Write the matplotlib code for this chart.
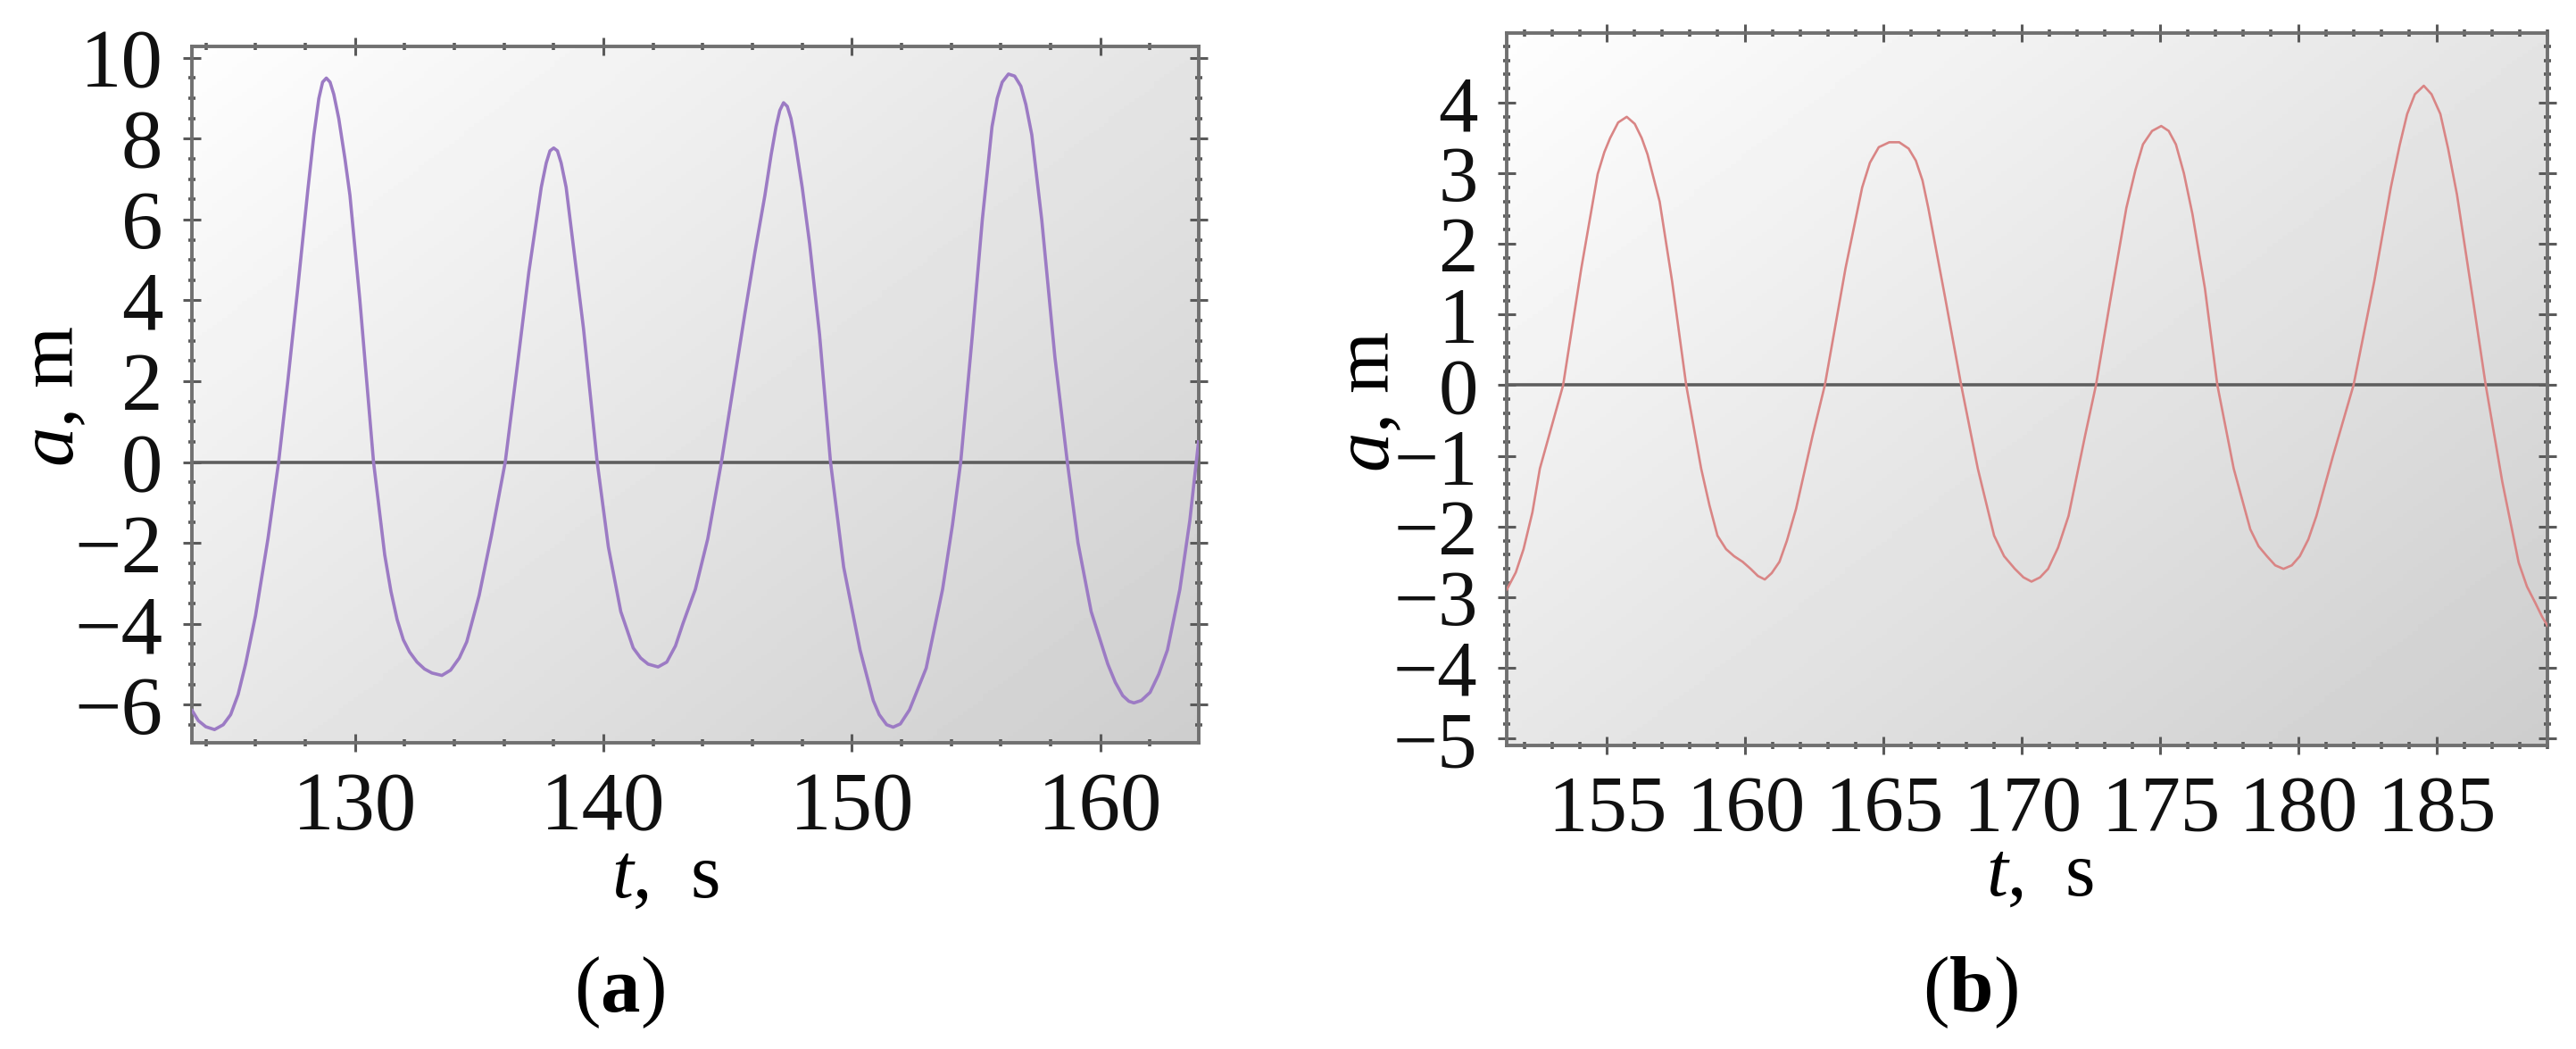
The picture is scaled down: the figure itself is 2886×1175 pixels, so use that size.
import numpy as np
import matplotlib
matplotlib.use("Agg")
import matplotlib.pyplot as plt
from matplotlib.ticker import MultipleLocator

plt.rcParams['font.family'] = ['Liberation Serif', 'DejaVu Serif']
plt.rcParams['mathtext.fontset'] = 'custom'
plt.rcParams['mathtext.rm'] = 'Liberation Serif'
plt.rcParams['mathtext.it'] = 'Liberation Serif:italic'
plt.rcParams['mathtext.bf'] = 'Liberation Serif:bold'

# panel (a): time, s and amplitude, m
t_a = [123.45, 123.7, 124.0, 124.35, 124.7, 125.0, 125.3, 125.6, 126.0, 126.5,
       126.93, 127.3, 127.7, 128.1, 128.35, 128.55, 128.7, 128.85, 129.0, 129.15,
       129.35, 129.6, 129.8, 130.2, 130.75, 131.2, 131.45, 131.7, 131.95, 132.2,
       132.5, 132.8, 133.1, 133.5, 133.85, 134.2, 134.5, 135.0, 135.5, 136.05,
       136.5, 137.0, 137.5, 137.7, 137.85, 138.0, 138.15, 138.3, 138.5, 138.7,
       139.2, 139.75, 140.2, 140.7, 141.2, 141.5, 141.8, 142.2, 142.55, 142.9,
       143.2, 143.7, 144.2, 144.75, 145.2, 145.7, 146.1, 146.5, 146.75, 146.95,
       147.1, 147.25, 147.4, 147.55, 147.7, 148.0, 148.3, 148.7, 149.14, 149.67,
       150.33, 150.86, 151.1, 151.4, 151.66, 151.95, 152.32, 152.99, 153.65, 154.05,
       154.38, 154.85, 155.25, 155.64, 155.85, 156.05, 156.3, 156.55, 156.8, 157.0,
       157.24, 157.64, 158.17, 158.67, 159.1, 159.63, 160.3, 160.6, 160.9, 161.15,
       161.35, 161.65, 162.0, 162.35, 162.7, 163.2, 163.6, 163.95]
a_a = [-6.15, -6.4, -6.55, -6.62, -6.5, -6.25, -5.75, -5.0, -3.8, -1.9,
       0.0, 2.0, 4.3, 6.7, 8.1, 9.0, 9.4, 9.5, 9.4, 9.1,
       8.5, 7.5, 6.6, 4.0, 0.0, -2.3, -3.2, -3.9, -4.4, -4.7,
       -4.95, -5.12, -5.22, -5.28, -5.15, -4.85, -4.45, -3.3, -1.8, 0.0,
       2.2, 4.7, 6.8, 7.4, 7.7, 7.77, 7.7, 7.4, 6.8, 5.8,
       3.3, 0.0, -2.1, -3.7, -4.6, -4.85, -5.0, -5.07, -4.95, -4.55,
       -4.0, -3.15, -1.9, 0.0, 1.75, 3.7, 5.2, 6.6, 7.6, 8.3,
       8.7, 8.89, 8.8, 8.5, 8.0, 6.8, 5.4, 3.15, 0.0, -2.6,
       -4.65, -5.9, -6.25, -6.5, -6.56, -6.48, -6.13, -5.1, -3.15, -1.55,
       0.0, 3.15, 6.0, 8.3, 9.0, 9.4, 9.6, 9.55, 9.3, 8.85,
       8.1, 6.0, 2.6, 0.0, -2.0, -3.7, -5.0, -5.45, -5.78, -5.92,
       -5.96, -5.9, -5.7, -5.25, -4.65, -3.15, -1.45, 0.5]

# panel (b)
t_b = [151.38, 151.7, 151.98, 152.3, 152.57, 153.41, 154.07, 154.66, 154.9, 155.11,
       155.4, 155.71, 156.0, 156.25, 156.46, 156.9, 157.35, 157.86, 158.4, 158.7,
       158.99, 159.3, 159.59, 159.9, 160.19, 160.45, 160.7, 160.95, 161.23, 161.5,
       161.83, 162.43, 162.87, 163.62, 164.22, 164.5, 164.82, 165.2, 165.56, 165.9,
       166.16, 166.4, 166.61, 167.2, 167.8, 168.4, 168.99, 169.35, 169.74, 170.05,
       170.34, 170.65, 170.94, 171.3, 171.68, 172.28, 172.67, 173.18, 173.77, 174.1,
       174.37, 174.7, 175.03, 175.3, 175.56, 175.85, 176.16, 176.61, 177.06, 177.65,
       178.25, 178.55, 178.85, 179.15, 179.45, 179.75, 180.04, 180.35, 180.64, 181.24,
       181.98, 182.73, 183.33, 183.65, 183.92, 184.2, 184.52, 184.8, 185.12, 185.4,
       185.72, 186.31, 186.76, 187.36, 187.95, 188.25, 188.55, 188.8, 189.0]
a_b = [-2.89, -2.65, -2.32, -1.8, -1.18, 0.0, 1.66, 2.99, 3.3, 3.5,
       3.72, 3.8, 3.7, 3.5, 3.27, 2.6, 1.47, 0.0, -1.18, -1.7,
       -2.13, -2.32, -2.42, -2.5, -2.6, -2.7, -2.75, -2.66, -2.5, -2.2,
       -1.75, -0.71, 0.0, 1.66, 2.8, 3.15, 3.37, 3.44, 3.44, 3.35,
       3.18, 2.9, 2.51, 1.28, 0.0, -1.18, -2.13, -2.42, -2.6, -2.72,
       -2.78, -2.72, -2.6, -2.3, -1.85, -0.71, 0.0, 1.18, 2.51, 3.05,
       3.41, 3.6, 3.67, 3.6, 3.41, 3.0, 2.42, 1.37, 0.0, -1.18,
       -2.04, -2.28, -2.42, -2.55, -2.6, -2.55, -2.42, -2.18, -1.85, -1.0,
       0.0, 1.47, 2.8, 3.4, 3.84, 4.12, 4.24, 4.12, 3.84, 3.35,
       2.7, 1.18, 0.0, -1.37, -2.51, -2.85, -3.08, -3.28, -3.41]

W, H = 2886, 1175
fig = plt.figure(figsize=(W / 100, H / 100), dpi=100)


def px(x0, y_bottom, x1, y_top):
    return [x0 / W, 1 - y_bottom / H, (x1 - x0) / W, (y_bottom - y_top) / H]


def setup(ax, xlim, ylim, xmaj, xmin, ymaj, ymin, fs):
    # light-to-grey shading like the original frame
    gx, gy = np.meshgrid(np.linspace(0, 1, 200), np.linspace(0, 1, 200))
    shade = 0.995 - 0.10 * gx - 0.09 * gy
    ax.imshow(shade, cmap='gray', vmin=0, vmax=1, extent=[0, 1, 0, 1],
              transform=ax.transAxes, origin='upper', aspect='auto', zorder=0)
    ax.set_xlim(*xlim)
    ax.set_ylim(*ylim)
    ax.axhline(0, color='#5e5e5e', lw=2.6, zorder=2)
    ax.xaxis.set_major_locator(MultipleLocator(xmaj))
    ax.xaxis.set_minor_locator(MultipleLocator(xmin))
    ax.yaxis.set_major_locator(MultipleLocator(ymaj))
    ax.yaxis.set_minor_locator(MultipleLocator(ymin))
    ax.tick_params(which='both', direction='inout', top=True, right=True,
                   colors='#5a5a5a', labelcolor='#111111')
    ax.tick_params(which='major', length=15, width=2.2, labelsize=fs, pad=16)
    ax.tick_params(which='minor', length=6, width=2.6)
    for s in ax.spines.values():
        s.set_color('#707070')
        s.set_linewidth(2.8)


ax1 = fig.add_axes(px(215, 831.7, 1343.3, 51.7))
setup(ax1, (123.44, 163.97), (-6.94, 10.29), 10, 2, 2, 0.5, 67)
ax1.plot(t_a, a_a, color='#9c7bc4', lw=2.6, zorder=3)

ax2 = fig.add_axes(px(1688.3, 835, 2854.3, 36.7))
setup(ax2, (151.38, 189.0), (-5.1, 4.99), 5, 1, 1, 0.2, 64)
ax2.plot(t_b, a_b, color='#d98585', lw=1.9, zorder=3)

# axis labels and panel letters
fig.text(82 / W, 1 - 444 / H, r'$a$, m', fontsize=64, rotation=90,
         rotation_mode='anchor', ha='center', va='baseline')
fig.text(745 / W, 1 - 1005 / H, r'$t$,  s', fontsize=62, ha='center', va='baseline')
fig.text(694 / W, 1 - 1133 / H, r'($\mathbf{a}$)', fontsize=64, ha='center', va='baseline')

fig.text(1556 / W, 1 - 450 / H, r'$a$, m', fontsize=64, rotation=90,
         rotation_mode='anchor', ha='center', va='baseline')
fig.text(2285 / W, 1 - 1003 / H, r'$t$,  s', fontsize=62, ha='center', va='baseline')
fig.text(2207 / W, 1 - 1133 / H, r'($\mathbf{b}$)', fontsize=64, ha='center', va='baseline')

fig.savefig('out.png', dpi=100, facecolor='white')
